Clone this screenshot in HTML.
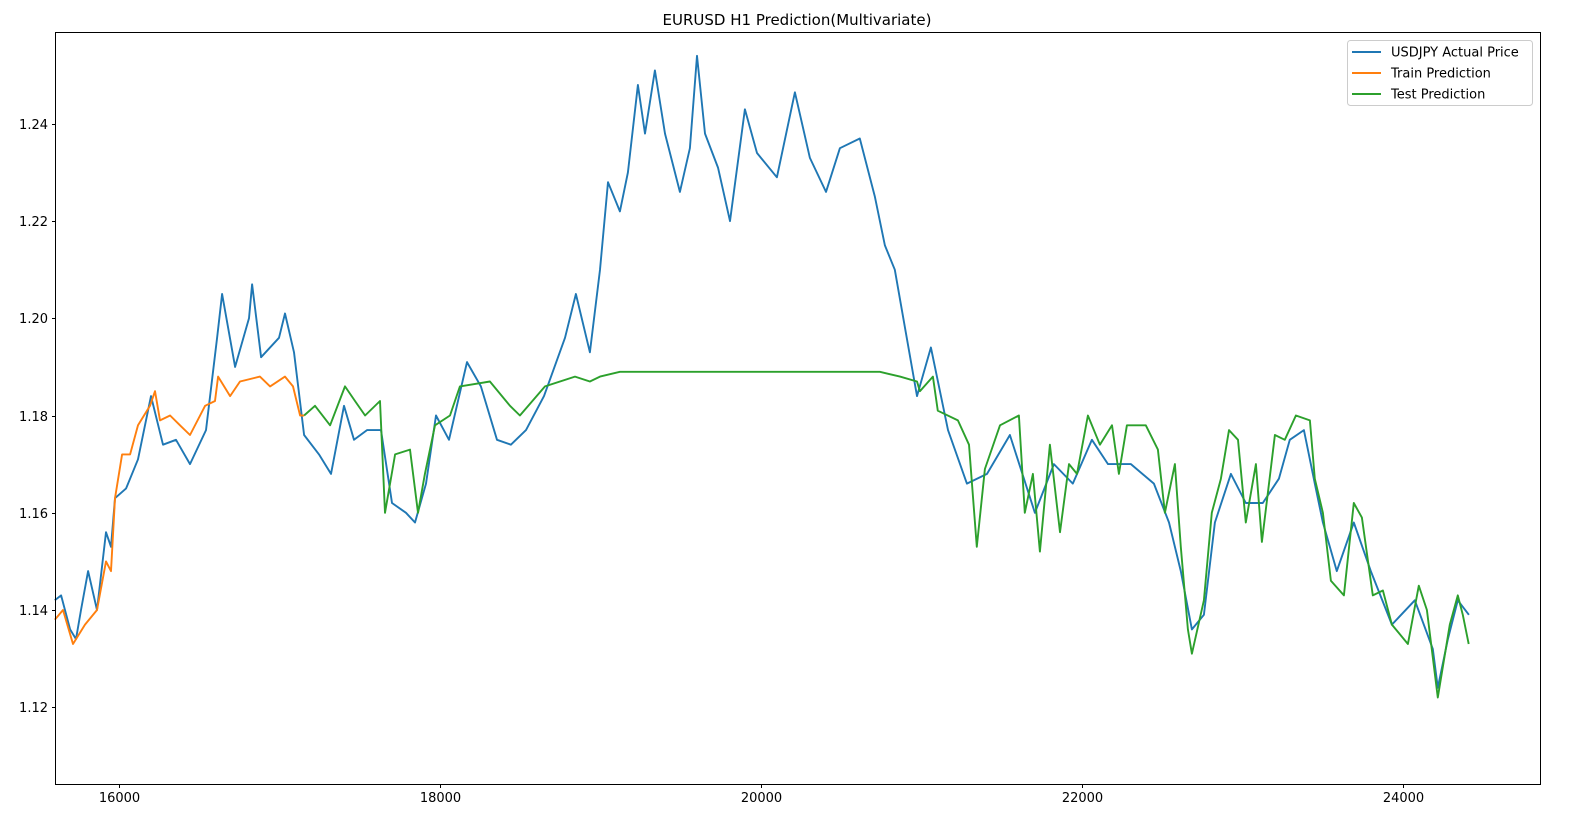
<!DOCTYPE html>
<html><head><meta charset="utf-8"><style>
html,body{margin:0;padding:0;background:#fff;}
svg{display:block;font-family:"DejaVu Sans","Liberation Sans",sans-serif;}
</style></head><body>
<svg id="chart" width="1570" height="824" viewBox="0 0 1570 824" xmlns="http://www.w3.org/2000/svg">
<rect width="1570" height="824" fill="#fff"/>
<text x="797" y="25" text-anchor="middle" font-size="15" fill="#000">EURUSD H1 Prediction(Multivariate)</text>
<g id="plot"></g>
<g id="axes"></g>
<g>
<rect x="1347.5" y="40.5" width="185" height="65" rx="3" fill="#fff" fill-opacity="0.8" stroke="#ccc"/>
<g><line x1="1352" y1="52" x2="1381" y2="52" stroke="#1f77b4" stroke-width="2"/><text x="1391" y="56.5" font-size="13">USDJPY Actual Price</text></g>
<g><line x1="1352" y1="73" x2="1381" y2="73" stroke="#ff7f0e" stroke-width="2"/><text x="1391" y="77.5" font-size="13">Train Prediction</text></g>
<g><line x1="1352" y1="94" x2="1381" y2="94" stroke="#2ca02c" stroke-width="2"/><text x="1391" y="98.5" font-size="13">Test Prediction</text></g>
</g>
</svg>
<script>
const actualX=[15600,15639,15695,15732,15763,15807,15863,15919,15950,15975,16044,16118,16199,16274,16355,16442,16542,16611,16642,16723,16810,16829,16885,16997,17034,17090,17153,17246,17321,17402,17464,17545,17632,17701,17788,17844,17913,17975,18056,18168,18255,18355,18442,18536,18648,18779,18847,18934,18997,19047,19121,19171,19233,19277,19339,19402,19495,19557,19601,19651,19732,19807,19900,19975,20099,20211,20305,20405,20492,20616,20710,20772,20834,20903,20972,21059,21165,21283,21408,21551,21707,21825,21943,22062,22162,22305,22448,22542,22616,22685,22760,22828,22928,23021,23127,23227,23295,23383,23451,23501,23588,23694,23800,23931,24074,24186,24217,24280,24342,24411];
const actualY=[1.142,1.143,1.136,1.134,1.140,1.148,1.140,1.156,1.153,1.163,1.165,1.171,1.184,1.174,1.175,1.170,1.177,1.196,1.205,1.190,1.200,1.207,1.192,1.196,1.201,1.193,1.176,1.172,1.168,1.182,1.175,1.177,1.177,1.162,1.160,1.158,1.166,1.180,1.175,1.191,1.186,1.175,1.174,1.177,1.184,1.196,1.205,1.193,1.210,1.228,1.222,1.230,1.248,1.238,1.251,1.238,1.226,1.235,1.254,1.238,1.231,1.220,1.243,1.234,1.229,1.2465,1.233,1.226,1.235,1.237,1.225,1.215,1.210,1.197,1.184,1.194,1.177,1.166,1.168,1.176,1.160,1.170,1.166,1.175,1.170,1.170,1.166,1.158,1.148,1.136,1.139,1.158,1.168,1.162,1.162,1.167,1.175,1.177,1.166,1.158,1.148,1.158,1.148,1.137,1.142,1.132,1.124,1.134,1.142,1.139];
const trainX=[15600,15651,15713,15788,15863,15919,15950,15975,16019,16069,16118,16193,16224,16255,16318,16380,16442,16536,16598,16617,16692,16754,16878,16941,17034,17084,17128,17153];
const trainY=[1.138,1.140,1.133,1.137,1.140,1.150,1.148,1.163,1.172,1.172,1.178,1.182,1.185,1.179,1.180,1.178,1.176,1.182,1.183,1.188,1.184,1.187,1.188,1.186,1.188,1.186,1.180,1.180];
const testX=[17153,17221,17315,17408,17470,17533,17626,17657,17720,17813,17863,17906,17969,18062,18124,18311,18436,18498,18654,18841,18934,18997,19121,20741,20866,20972,20990,21071,21102,21227,21296,21345,21395,21489,21607,21644,21694,21738,21800,21863,21919,21969,22037,22112,22187,22230,22280,22398,22473,22517,22579,22616,22660,22685,22760,22809,22866,22916,22972,23021,23084,23121,23202,23264,23333,23420,23451,23501,23551,23632,23694,23744,23812,23875,23931,24031,24099,24149,24217,24292,24342,24373,24410];
const testY=[1.180,1.182,1.178,1.186,1.183,1.180,1.183,1.160,1.172,1.173,1.160,1.168,1.178,1.180,1.186,1.187,1.182,1.180,1.186,1.188,1.187,1.188,1.189,1.189,1.188,1.187,1.185,1.188,1.181,1.179,1.174,1.153,1.169,1.178,1.180,1.160,1.168,1.152,1.174,1.156,1.170,1.168,1.180,1.174,1.178,1.168,1.178,1.178,1.173,1.160,1.170,1.153,1.136,1.131,1.142,1.160,1.167,1.177,1.175,1.158,1.170,1.154,1.176,1.175,1.180,1.179,1.167,1.160,1.146,1.143,1.162,1.159,1.143,1.144,1.137,1.133,1.145,1.140,1.122,1.137,1.143,1.139,1.133];
const xTicks=[16000,18000,20000,22000,24000];
const yTicks=[1.12,1.14,1.16,1.18,1.20,1.22,1.24];
const yTickLabels=["1.12","1.14","1.16","1.18","1.20","1.22","1.24"];

const L=55,R=1540,T=32,B=784;
const xMin=15601,xMax=24854,yMin=1.1042,yMax=1.2589;
function sx(v){return L+(v-xMin)/(xMax-xMin)*(R-L);}
function sy(v){return B-(v-yMin)/(yMax-yMin)*(B-T);}
const NS="http://www.w3.org/2000/svg";
const plot=document.getElementById('plot');
const axes=document.getElementById('axes');
function mk(tag,attrs,parent){const e=document.createElementNS(NS,tag);for(const k in attrs)e.setAttribute(k,attrs[k]);parent.appendChild(e);return e;}
function series(xs,ys){return xs.map((x,i)=>sx(x).toFixed(1)+','+sy(ys[i]).toFixed(1)).join(' ');}
const p1=mk('polyline',{points:series(actualX,actualY),fill:'none',stroke:'#1f77b4','stroke-width':1.9,'stroke-linejoin':'round'},plot);


const p2=mk('polyline',{points:series(trainX,trainY),fill:'none',stroke:'#ff7f0e','stroke-width':1.9,'stroke-linejoin':'round'},plot);


const p3=mk('polyline',{points:series(testX,testY),fill:'none',stroke:'#2ca02c','stroke-width':1.9,'stroke-linejoin':'round'},plot);


const frame=mk('rect',{x:L+0.5,y:T+0.5,width:R-L,height:B-T,fill:'none',stroke:'#000','stroke-width':1},axes);


xTicks.forEach(v=>{
  const x=Math.round(sx(v))+0.5;
  mk('line',{x1:x,y1:B+0.5,x2:x,y2:B+4,stroke:'#000'},axes);
  const t=mk('text',{x:x,y:B+18,'text-anchor':'middle','font-size':13},axes);
  t.textContent=String(v);
  
  
});
yTicks.forEach((v,i)=>{
  const y=Math.round(sy(v))+0.5;
  mk('line',{x1:L+0.5,y1:y,x2:L-3,y2:y,stroke:'#000'},axes);
  const t=mk('text',{x:L-7,y:y+4.5,'text-anchor':'end','font-size':13},axes);
  t.textContent=yTickLabels[i];
  
  
});
</script>
</body></html>
